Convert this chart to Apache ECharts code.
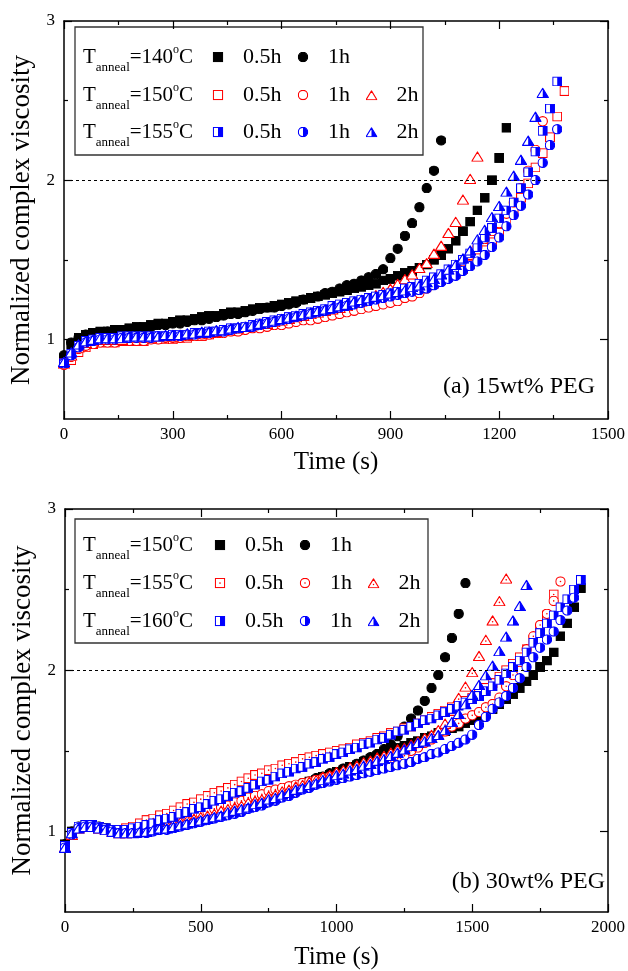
<!DOCTYPE html>
<html><head><meta charset="utf-8">
<script src="https://cdn.jsdelivr.net/npm/echarts@6/dist/echarts.min.js"></script>
<style>html,body{margin:0;padding:0;background:#fff}#c{width:628px;height:971px}</style>
</head><body><div id="c"></div>
<script>
// ---------- DATA ----------
const timeA = [0,20,40,60,80,100,120,140,160,180,200,220,240,260,280,300,320,340,360,380,400,420,440,460,480,500,520,540,560,580,600,620,640,660,680,700,720,740,760,780,800,820,840,860,880,900,920,940,960,980,1000,1020,1040,1060,1080,1100,1120,1140,1160,1180,1200,1220,1240,1260,1280,1300,1320,1340,1360,1380];
const timeB = [0,25,50,75,100,125,150,175,200,225,250,275,300,325,350,375,400,425,450,475,500,525,550,575,600,625,650,675,700,725,750,775,800,825,850,875,900,925,950,975,1000,1025,1050,1075,1100,1125,1150,1175,1200,1225,1250,1275,1300,1325,1350,1375,1400,1425,1450,1475,1500,1525,1550,1575,1600,1625,1650,1675,1700,1725,1750,1775,1800,1825,1850,1875,1900];

// Panel (a) 15wt% PEG
const a140_05 = [0.88,0.97,1.01,1.03,1.04,1.05,1.05,1.06,1.06,1.07,1.08,1.08,1.09,1.10,1.10,1.11,1.12,1.12,1.13,1.14,1.15,1.15,1.16,1.17,1.17,1.18,1.19,1.20,1.20,1.21,1.22,1.23,1.24,1.25,1.26,1.27,1.28,1.29,1.30,1.31,1.32,1.33,1.34,1.35,1.37,1.38,1.40,1.42,1.43,1.45,1.47,1.50,1.53,1.57,1.62,1.68,1.74,1.81,1.89,2.00,2.14,2.33];
const a140_1 = [0.90,0.98,1.01,1.03,1.04,1.04,1.05,1.05,1.06,1.06,1.07,1.07,1.08,1.09,1.09,1.10,1.10,1.11,1.12,1.12,1.13,1.14,1.15,1.16,1.16,1.17,1.18,1.19,1.20,1.20,1.21,1.22,1.23,1.25,1.26,1.27,1.29,1.30,1.32,1.34,1.35,1.37,1.39,1.41,1.44,1.51,1.57,1.65,1.73,1.83,1.95,2.06,2.25];
const a150_05 = [0.85,0.87,0.92,0.95,0.97,0.98,0.98,0.98,0.99,0.99,0.99,0.99,1.00,1.00,1.00,1.00,1.01,1.01,1.02,1.02,1.03,1.04,1.05,1.05,1.06,1.07,1.08,1.09,1.09,1.10,1.11,1.12,1.13,1.14,1.15,1.16,1.17,1.18,1.19,1.20,1.21,1.22,1.23,1.24,1.25,1.27,1.28,1.29,1.31,1.32,1.34,1.35,1.37,1.39,1.41,1.44,1.47,1.51,1.56,1.61,1.67,1.74,1.81,1.89,1.98,2.08,2.17,2.27,2.40,2.56];
const a150_1 = [0.84,0.89,0.94,0.96,0.97,0.98,0.98,0.98,0.99,0.99,0.99,0.99,1.00,1.00,1.01,1.01,1.01,1.02,1.02,1.03,1.03,1.04,1.04,1.05,1.05,1.06,1.07,1.07,1.08,1.09,1.09,1.10,1.11,1.12,1.12,1.13,1.14,1.15,1.16,1.17,1.18,1.19,1.20,1.21,1.22,1.23,1.24,1.26,1.27,1.29,1.32,1.35,1.38,1.41,1.45,1.49,1.53,1.58,1.63,1.68,1.73,1.79,1.86,1.95,2.06,2.19,2.37];
const a150_2 = [0.85,0.90,0.95,0.98,0.99,1.00,1.00,1.00,1.00,1.01,1.01,1.01,1.01,1.02,1.02,1.02,1.03,1.03,1.04,1.04,1.05,1.05,1.06,1.07,1.07,1.08,1.09,1.10,1.10,1.11,1.12,1.13,1.14,1.15,1.16,1.17,1.18,1.19,1.20,1.21,1.23,1.24,1.26,1.28,1.30,1.32,1.35,1.38,1.41,1.45,1.48,1.54,1.59,1.67,1.74,1.88,2.01,2.15];
const a155_05 = [0.85,0.91,0.96,0.99,1.00,1.01,1.01,1.01,1.02,1.02,1.02,1.02,1.02,1.02,1.02,1.03,1.03,1.03,1.04,1.04,1.05,1.05,1.06,1.07,1.07,1.08,1.09,1.10,1.11,1.12,1.13,1.14,1.15,1.16,1.17,1.18,1.19,1.21,1.22,1.23,1.24,1.25,1.26,1.27,1.28,1.29,1.30,1.32,1.33,1.35,1.37,1.39,1.41,1.44,1.47,1.50,1.54,1.58,1.64,1.70,1.76,1.81,1.86,1.95,2.05,2.18,2.31,2.45,2.62];
const a155_1 = [0.85,0.90,0.95,0.98,0.99,1.00,1.00,1.00,1.01,1.01,1.01,1.01,1.01,1.02,1.02,1.02,1.02,1.03,1.03,1.04,1.04,1.05,1.05,1.06,1.07,1.08,1.08,1.09,1.10,1.11,1.12,1.13,1.14,1.15,1.16,1.17,1.18,1.19,1.20,1.21,1.22,1.23,1.24,1.25,1.26,1.27,1.28,1.29,1.30,1.31,1.32,1.34,1.36,1.38,1.40,1.43,1.46,1.49,1.53,1.58,1.64,1.71,1.78,1.84,1.91,2.00,2.11,2.22,2.32];
const a155_2 = [0.86,0.92,0.97,0.99,1.00,1.01,1.01,1.01,1.01,1.02,1.02,1.02,1.02,1.02,1.03,1.03,1.03,1.04,1.04,1.05,1.05,1.06,1.06,1.07,1.08,1.08,1.09,1.10,1.11,1.12,1.13,1.14,1.15,1.16,1.17,1.18,1.19,1.20,1.21,1.22,1.24,1.25,1.26,1.27,1.28,1.29,1.30,1.31,1.33,1.34,1.36,1.38,1.41,1.44,1.47,1.51,1.56,1.63,1.69,1.77,1.84,1.93,2.03,2.13,2.25,2.40,2.55];

// Panel (b) 30wt% PEG
const b150_05 = [0.92,1.00,1.03,1.04,1.04,1.03,1.02,1.01,1.00,1.00,1.00,1.01,1.01,1.02,1.03,1.03,1.04,1.05,1.06,1.07,1.08,1.09,1.10,1.12,1.13,1.14,1.16,1.17,1.19,1.20,1.22,1.23,1.25,1.26,1.28,1.29,1.31,1.32,1.34,1.35,1.37,1.38,1.40,1.41,1.43,1.45,1.47,1.48,1.50,1.52,1.53,1.55,1.56,1.58,1.59,1.61,1.62,1.64,1.65,1.67,1.69,1.71,1.74,1.76,1.79,1.82,1.85,1.89,1.93,1.97,2.02,2.06,2.11,2.21,2.29,2.39,2.51];
const b150_1 = [0.92,1.00,1.03,1.04,1.04,1.03,1.02,1.01,1.00,1.00,1.00,1.01,1.02,1.02,1.03,1.04,1.05,1.06,1.07,1.08,1.09,1.10,1.11,1.12,1.14,1.15,1.16,1.18,1.19,1.21,1.22,1.24,1.25,1.27,1.28,1.30,1.31,1.33,1.34,1.36,1.37,1.39,1.40,1.42,1.44,1.46,1.48,1.51,1.54,1.59,1.65,1.70,1.75,1.81,1.89,1.97,2.08,2.20,2.35,2.54];
const b155_05 = [0.90,0.98,1.02,1.03,1.03,1.02,1.01,1.01,1.01,1.02,1.03,1.05,1.07,1.08,1.10,1.11,1.13,1.15,1.17,1.18,1.20,1.22,1.24,1.25,1.27,1.29,1.31,1.33,1.35,1.36,1.38,1.39,1.41,1.42,1.43,1.45,1.46,1.47,1.48,1.49,1.50,1.51,1.52,1.54,1.55,1.56,1.58,1.59,1.61,1.62,1.64,1.65,1.67,1.69,1.71,1.73,1.75,1.77,1.79,1.81,1.83,1.86,1.89,1.92,1.96,2.00,2.04,2.08,2.13,2.19,2.25,2.34,2.47];
const b155_1 = [0.90,0.98,1.02,1.03,1.03,1.02,1.01,1.00,1.00,1.00,1.01,1.02,1.03,1.04,1.05,1.06,1.07,1.08,1.09,1.10,1.11,1.12,1.14,1.15,1.16,1.18,1.19,1.21,1.22,1.23,1.25,1.26,1.27,1.28,1.29,1.30,1.31,1.32,1.33,1.34,1.35,1.36,1.37,1.37,1.38,1.39,1.40,1.42,1.43,1.45,1.47,1.50,1.52,1.55,1.57,1.60,1.62,1.65,1.67,1.70,1.72,1.74,1.77,1.79,1.83,1.90,1.97,2.05,2.13,2.21,2.28,2.35,2.43,2.55];
const b155_2 = [0.90,0.98,1.02,1.03,1.03,1.02,1.01,1.00,0.99,0.99,1.00,1.00,1.01,1.02,1.03,1.04,1.05,1.06,1.07,1.08,1.09,1.10,1.11,1.13,1.14,1.15,1.16,1.18,1.19,1.20,1.22,1.23,1.25,1.26,1.28,1.29,1.31,1.32,1.34,1.35,1.37,1.38,1.40,1.41,1.43,1.44,1.46,1.47,1.49,1.51,1.52,1.54,1.56,1.58,1.60,1.63,1.67,1.75,1.83,1.90,1.99,2.09,2.19,2.31,2.43,2.57];
const b160_05 = [0.91,0.99,1.03,1.04,1.04,1.03,1.02,1.01,1.01,1.01,1.02,1.03,1.04,1.05,1.07,1.08,1.09,1.11,1.12,1.14,1.15,1.17,1.19,1.20,1.22,1.24,1.25,1.27,1.29,1.31,1.32,1.34,1.36,1.37,1.39,1.40,1.42,1.43,1.45,1.46,1.48,1.49,1.51,1.52,1.54,1.55,1.57,1.58,1.60,1.62,1.63,1.65,1.67,1.69,1.70,1.72,1.74,1.76,1.78,1.80,1.82,1.84,1.87,1.90,1.94,1.98,2.02,2.06,2.11,2.17,2.23,2.29,2.34,2.39,2.44,2.50,2.56];
const b160_1 = [0.90,0.98,1.02,1.03,1.03,1.02,1.01,1.00,0.99,0.99,0.99,0.99,0.99,1.00,1.01,1.01,1.02,1.03,1.04,1.05,1.06,1.07,1.08,1.09,1.10,1.11,1.12,1.14,1.15,1.16,1.18,1.19,1.21,1.22,1.24,1.26,1.27,1.29,1.30,1.31,1.32,1.33,1.34,1.35,1.36,1.37,1.38,1.39,1.40,1.41,1.42,1.43,1.45,1.46,1.48,1.49,1.51,1.53,1.55,1.57,1.60,1.66,1.71,1.76,1.80,1.84,1.89,1.95,2.02,2.08,2.14,2.19,2.24,2.31,2.37,2.45];
const b160_2 = [0.90,0.99,1.02,1.03,1.03,1.02,1.01,1.00,0.99,0.99,0.99,1.00,1.00,1.01,1.02,1.02,1.03,1.04,1.05,1.06,1.07,1.08,1.09,1.10,1.12,1.13,1.14,1.15,1.17,1.18,1.20,1.21,1.23,1.24,1.26,1.27,1.29,1.30,1.32,1.33,1.35,1.36,1.38,1.39,1.41,1.42,1.44,1.45,1.47,1.49,1.51,1.53,1.55,1.56,1.58,1.60,1.63,1.68,1.73,1.79,1.85,1.91,1.97,2.03,2.12,2.21,2.31,2.40,2.53];

const tempsA = ['140', '150', '155'];
const tempsB = ['150', '155', '160'];
const durations = ['0.5h', '1h', '2h'];
const xTicksA = [0, 1500, 300];   // min, max, step
const xTicksB = [0, 2000, 500];
const yMajor = [1, 2, 3];
const yMinor = [1.5, 2.5];
const refLine = 2;

// ---------- STYLE ----------
const FONT = '"Liberation Serif","Times New Roman",Times,serif';
const RED = '#ff0000', BLUE = '#0000ff', BLK = '#000000';
const SW = 1.15;

function img(w, h, body) {
  const s = `<svg xmlns='http://www.w3.org/2000/svg' width='${w*4}' height='${h*4}' viewBox='0 0 ${w} ${h}'>${body}</svg>`;
  return 'image://data:image/svg+xml;charset=utf-8,' + encodeURIComponent(s);
}
const S = 10, C = 10.5, TW = 12.5, TH = 11;
function square(fill, stroke, extra) {
  return img(S, S, `<rect x='${SW/2}' y='${SW/2}' width='${S-SW}' height='${S-SW}' fill='${fill}' stroke='${stroke}' stroke-width='${SW}'/>` + (extra || ''));
}
function circle(fill, stroke, extra) {
  return img(C, C, `<circle cx='${C/2}' cy='${C/2}' r='${C/2-SW/2}' fill='${fill}' stroke='${stroke}' stroke-width='${SW}'/>` + (extra || ''));
}
function tri(fill, stroke, extra) {
  return img(TW, TH, `<polygon points='${TW/2},${SW} ${TW-SW/2},${TH-SW/2} ${SW/2},${TH-SW/2}' fill='${fill}' stroke='${stroke}' stroke-width='${SW}' stroke-linejoin='round'/>` + (extra || ''));
}
const r = C/2 - SW/2;
const SYM = {
  bSq: square(BLK, BLK), bCi: circle(BLK, BLK),
  rSq: square('#fff', RED), rCi: circle('#fff', RED), rTr: tri('#fff', RED),
  rSqD: square('#fff', RED, `<circle cx='${S/2}' cy='${S/2}' r='0.8' fill='${RED}'/>`),
  rCiD: circle('#fff', RED, `<circle cx='${C/2}' cy='${C/2}' r='0.8' fill='${RED}'/>`),
  rTrD: tri('#fff', RED, `<circle cx='${TW/2}' cy='${TH*0.64}' r='0.8' fill='${RED}'/>`),
  hSq: square('#fff', BLUE, `<rect x='${S/2}' y='${SW/2}' width='${S/2-SW/2}' height='${S-SW}' fill='${BLUE}'/>`),
  hCi: circle('#fff', BLUE, `<path d='M${C/2},${C/2-r} A${r},${r} 0 0 1 ${C/2},${C/2+r} Z' fill='${BLUE}'/>`),
  hTr: tri('#fff', BLUE, `<polygon points='${TW/2},${SW} ${TW-SW/2},${TH-SW/2} ${TW/2},${TH-SW/2}' fill='${BLUE}'/>`)
};
const SZ = {sq: [S, S], ci: [C, C], tr: [TW, TH]};

function mk(name, times, vals, sym, size, xi, yi, extra) {
  return Object.assign({
    type: 'scatter', name, xAxisIndex: xi, yAxisIndex: yi,
    symbol: sym, symbolSize: size, clip: false, silent: true,
    itemStyle: {opacity: 1},
    emphasis: {disabled: true},
    data: vals.map((v, i) => [times[i], v])
  }, extra || {});
}
const dashed = {markLine: {silent: true, symbol: ['none', 'none'], label: {show: false},
  lineStyle: {type: [3, 3], color: BLK, width: 1, opacity: 1}, data: [{yAxis: refLine}]}};

const series = [
  mk('a' + tempsA[0] + ' ' + durations[0], timeA, a140_05, SYM.bSq, SZ.sq, 0, 0, dashed),
  mk('a' + tempsA[0] + ' ' + durations[1], timeA, a140_1, SYM.bCi, SZ.ci, 0, 0),
  mk('a' + tempsA[1] + ' ' + durations[0], timeA, a150_05, SYM.rSq, SZ.sq, 0, 0),
  mk('a' + tempsA[1] + ' ' + durations[1], timeA, a150_1, SYM.rCi, SZ.ci, 0, 0),
  mk('a' + tempsA[1] + ' ' + durations[2], timeA, a150_2, SYM.rTr, SZ.tr, 0, 0),
  mk('a' + tempsA[2] + ' ' + durations[0], timeA, a155_05, SYM.hSq, SZ.sq, 0, 0),
  mk('a' + tempsA[2] + ' ' + durations[1], timeA, a155_1, SYM.hCi, SZ.ci, 0, 0),
  mk('a' + tempsA[2] + ' ' + durations[2], timeA, a155_2, SYM.hTr, SZ.tr, 0, 0),
  mk('b' + tempsB[0] + ' ' + durations[0], timeB, b150_05, SYM.bSq, SZ.sq, 2, 4, dashed),
  mk('b' + tempsB[0] + ' ' + durations[1], timeB, b150_1, SYM.bCi, SZ.ci, 2, 4),
  mk('b' + tempsB[1] + ' ' + durations[0], timeB, b155_05, SYM.rSqD, SZ.sq, 2, 4),
  mk('b' + tempsB[1] + ' ' + durations[1], timeB, b155_1, SYM.rCiD, SZ.ci, 2, 4),
  mk('b' + tempsB[1] + ' ' + durations[2], timeB, b155_2, SYM.rTrD, SZ.tr, 2, 4),
  mk('b' + tempsB[2] + ' ' + durations[0], timeB, b160_05, SYM.hSq, SZ.sq, 2, 4),
  mk('b' + tempsB[2] + ' ' + durations[1], timeB, b160_1, SYM.hCi, SZ.ci, 2, 4),
  mk('b' + tempsB[2] + ' ' + durations[2], timeB, b160_2, SYM.hTr, SZ.tr, 2, 4)
];

// ---------- AXES ----------
const lineS = {color: BLK, width: 1.5};
const tickS = {color: BLK, width: 1.2};
function xAx(grid, t, bottom, nameGap) {
  return {
    gridIndex: grid, type: 'value', min: t[0], max: t[1], interval: t[2],
    position: bottom ? 'bottom' : 'top',
    axisLine: {show: true, onZero: false, lineStyle: lineS},
    axisTick: {show: true, inside: true, length: 8, lineStyle: tickS},
    minorTick: {show: true, splitNumber: 2, length: 4, lineStyle: tickS},
    splitLine: {show: false}, minorSplitLine: {show: false},
    axisLabel: {show: bottom, color: BLK, fontFamily: FONT, fontSize: 17, margin: 7,
      showMinLabel: true, showMaxLabel: true, formatter: v => String(v)},
    name: bottom ? 'Time (s)' : '', nameLocation: 'middle', nameGap: nameGap,
    nameTextStyle: {color: BLK, fontFamily: FONT, fontSize: 25}
  };
}
function yAx(grid, pos, major, label) {
  return {
    gridIndex: grid, type: 'value', min: 0.5, max: 3, position: pos,
    axisLine: {show: major, onZero: false, lineStyle: lineS},
    axisTick: {show: true, inside: true, length: major ? 8 : 4, lineStyle: tickS, customValues: major ? yMajor : yMinor},
    splitLine: {show: false},
    axisLabel: {show: label, customValues: yMajor, color: BLK, fontFamily: FONT, fontSize: 17, margin: 9},
    name: label ? 'Normalized complex viscosity' : '', nameLocation: 'middle', nameGap: 24,
    nameTextStyle: {color: BLK, fontFamily: FONT, fontSize: 27}
  };
}

// ---------- LEGEND ----------
function leg(prefix, temp, n, left, top) {
  return {
    data: durations.slice(0, n).map(d => prefix + temp + ' ' + d),
    left, top, orient: 'horizontal', padding: 0, itemGap: 15.5,
    itemWidth: 12, itemHeight: 10.5, selectedMode: false,
    itemStyle: {opacity: 1},
    formatter: nm => nm.split(' ')[1],
    textStyle: {fontFamily: FONT, fontSize: 22, color: BLK, padding: [0, 0, 0, 14]}
  };
}
function rowLabel(x, y, temp) {
  const base = {fontFamily: FONT, fill: BLK};
  return {
    type: 'text', x, y, silent: true,
    style: {
      text: `{t|T}{s|anneal}{t|=${temp}}{p|o}{t|C}`,
      rich: {
        t: Object.assign({fontSize: 21, lineHeight: 35, verticalAlign: 'middle'}, base),
        s: Object.assign({fontSize: 13, lineHeight: 13, verticalAlign: 'bottom'}, base),
        p: Object.assign({fontSize: 12, height: 21, lineHeight: 21, verticalAlign: 'top'}, base)
      },
      align: 'left', verticalAlign: 'middle'
    }
  };
}
const rowsA = [57, 95, 132], rowsB = [545, 583, 621];

const option = {
  animation: false,
  backgroundColor: '#fff',
  grid: [
    {left: 64, top: 21, width: 547, height: 398},
    {left: 65, top: 509, width: 554, height: 404}
  ],
  xAxis: [xAx(0, xTicksA, true, 31), xAx(0, xTicksA, false), xAx(1, xTicksB, true, 33), xAx(1, xTicksB, false)],
  yAxis: [
    yAx(0, 'left', true, true), yAx(0, 'left', false, false), yAx(0, 'right', true, false), yAx(0, 'right', false, false),
    yAx(1, 'left', true, true), yAx(1, 'left', false, false), yAx(1, 'right', true, false), yAx(1, 'right', false, false)
  ],
  legend: [
    leg('a', tempsA[0], 2, 212, rowsA[0] - 11),
    leg('a', tempsA[1], 3, 212, rowsA[1] - 11),
    leg('a', tempsA[2], 3, 212, rowsA[2] - 11),
    leg('b', tempsB[0], 2, 214, rowsB[0] - 11),
    leg('b', tempsB[1], 3, 214, rowsB[1] - 11),
    leg('b', tempsB[2], 3, 214, rowsB[2] - 11)
  ],
  graphic: [
    {type: 'rect', silent: true, shape: {x: 75, y: 27, width: 348, height: 128}, style: {fill: 'none', stroke: '#333', lineWidth: 1.3}},
    {type: 'rect', silent: true, shape: {x: 75, y: 519, width: 353, height: 124}, style: {fill: 'none', stroke: '#333', lineWidth: 1.3}},
    rowLabel(83, rowsA[0], tempsA[0]), rowLabel(83, rowsA[1], tempsA[1]), rowLabel(83, rowsA[2], tempsA[2]),
    rowLabel(83, rowsB[0], tempsB[0]), rowLabel(83, rowsB[1], tempsB[1]), rowLabel(83, rowsB[2], tempsB[2]),
    {type: 'text', silent: true, x: 595, y: 387, style: {text: '(a) 15wt% PEG', fontFamily: FONT, fontSize: 24, fill: BLK, align: 'right', verticalAlign: 'middle'}},
    {type: 'text', silent: true, x: 605, y: 882, style: {text: '(b) 30wt% PEG', fontFamily: FONT, fontSize: 24, fill: BLK, align: 'right', verticalAlign: 'middle'}}
  ],
  series
};

const chart = echarts.init(document.getElementById('c'), null, {renderer: 'canvas'});
chart.setOption(option);
</script></body></html>
